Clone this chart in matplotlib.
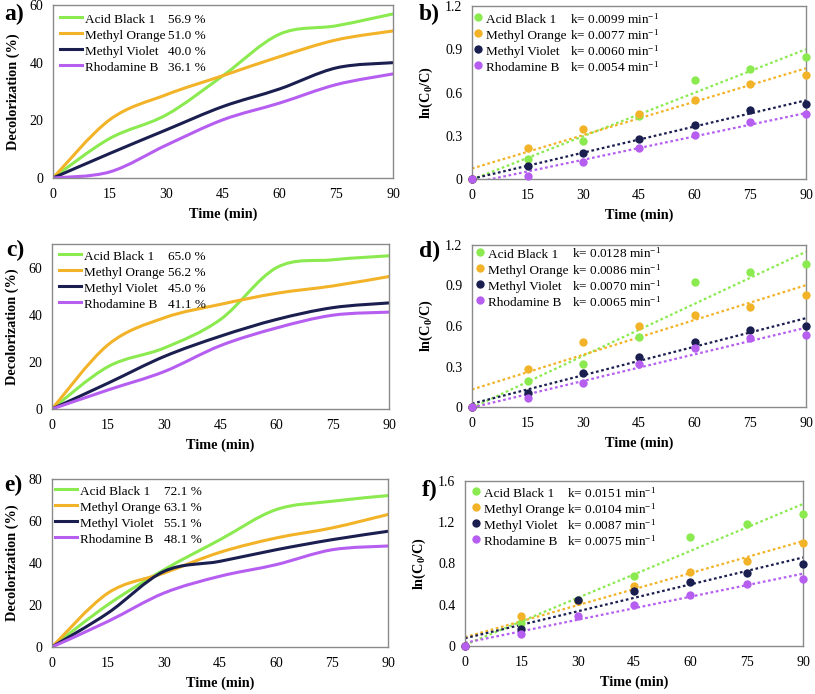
import numpy as np
import matplotlib
matplotlib.use("Agg")
import matplotlib.pyplot as plt
from matplotlib.path import Path
from matplotlib.patches import PathPatch
from matplotlib.lines import Line2D

plt.rcParams['font.family'] = ['Liberation Serif', 'DejaVu Serif']
plt.rcParams['mathtext.fontset'] = 'custom'
plt.rcParams['mathtext.rm'] = 'Liberation Serif'
plt.rcParams['mathtext.it'] = 'Liberation Serif:italic'
plt.rcParams['mathtext.bf'] = 'Liberation Serif:bold'
plt.rcParams['mathtext.default'] = 'regular'

time = [0, 15, 30, 45, 60, 75, 90]
dyes = ["Acid Black 1", "Methyl Orange", "Methyl Violet", "Rhodamine B"]
colors = ["#8BEA4F", "#F2B328", "#1B1F50", "#B55EF0"]

# decolorization (%) -- order follows dyes
decol_a = [[0, 13.7, 21.9, 35.5, 49.9, 52.8, 56.9],
           [0, 20.2, 28.9, 35.5, 42.1, 47.9, 51.0],
           [0, 8.5, 16.7, 24.8, 30.9, 38.2, 40.0],
           [0, 2.1, 11.4, 20.2, 26.0, 32.4, 36.1]]
decol_c = [[0, 18.0, 25.9, 38.0, 60.0, 63.3, 65.0],
           [0, 27.3, 38.7, 44.4, 49.1, 52.2, 56.2],
           [0, 11.0, 22.3, 30.9, 38.0, 43.0, 45.0],
           [0, 8.1, 15.9, 26.9, 34.4, 39.8, 41.1]]
decol_e = [[0, 20.2, 36.8, 51.1, 65.4, 69.4, 72.1],
           [0, 25.7, 35.2, 45.1, 51.9, 56.7, 63.1],
           [0, 16.2, 36.0, 40.8, 46.3, 51.1, 55.1],
           [0, 12.2, 25.7, 33.7, 39.2, 46.3, 48.1]]
pct_a = ["56.9 %", "51.0 %", "40.0 %", "36.1 %"]
pct_c = ["65.0 %", "56.2 %", "45.0 %", "41.1 %"]
pct_e = ["72.1 %", "63.1 %", "55.1 %", "48.1 %"]

# ln(C0/C)
lnc_b = [[0, 0.139, 0.264, 0.436, 0.684, 0.764, 0.849],
         [0, 0.217, 0.347, 0.453, 0.547, 0.660, 0.719],
         [0, 0.087, 0.177, 0.276, 0.377, 0.481, 0.517],
         [0, 0.024, 0.120, 0.212, 0.304, 0.392, 0.450]]
lnc_d = [[0, 0.190, 0.320, 0.515, 0.923, 1.000, 1.057],
         [0, 0.280, 0.483, 0.600, 0.680, 0.740, 0.830],
         [0, 0.106, 0.255, 0.374, 0.485, 0.569, 0.600],
         [0, 0.064, 0.178, 0.317, 0.436, 0.512, 0.535]]
lnc_f = [[0, 0.223, 0.443, 0.675, 1.054, 1.180, 1.283],
         [0, 0.291, 0.440, 0.582, 0.718, 0.824, 1.002],
         [0, 0.168, 0.443, 0.530, 0.617, 0.711, 0.798],
         [0, 0.120, 0.291, 0.400, 0.498, 0.601, 0.653]]
k_b = ["0.0099", "0.0077", "0.0060", "0.0054"]
k_d = ["0.0128", "0.0086", "0.0070", "0.0065"]
k_f = ["0.0151", "0.0104", "0.0087", "0.0075"]

W, H = 815, 694
LEG_FS = 9.5
LEG_HH = 1.22   # row height is set by the handle box so both columns match
LEG_SP = 0.13
fig = plt.figure(figsize=(W / 100, H / 100), dpi=100)


def px_axes(l, t, r, b):
    return fig.add_axes([l / W, 1 - b / H, (r - l) / W, (b - t) / H])


def smooth_path(x, y):
    # Excel-like smoothed line (Catmull-Rom as cubic Bezier segments)
    pts = np.column_stack([x, y]).astype(float)
    n = len(pts)
    verts = [pts[0]]
    codes = [Path.MOVETO]
    for i in range(n - 1):
        p0 = pts[max(i - 1, 0)]
        p1, p2 = pts[i], pts[i + 1]
        p3 = pts[min(i + 2, n - 1)]
        verts += [p1 + (p2 - p0) / 6, p2 - (p3 - p1) / 6, p2]
        codes += [Path.CURVE4] * 3
    return Path(verts, codes)


def style(ax, ymax, ystep, ylabel, fmt):
    ax.set_xlim(0, 90)
    ax.set_ylim(0, ymax)
    ax.set_xticks(time)
    ax.set_yticks(np.arange(0, ymax + 1e-9, ystep))
    ax.yaxis.set_major_formatter(matplotlib.ticker.FormatStrFormatter(fmt))
    ax.tick_params(length=0, labelsize=10, pad=7)
    for s in ax.spines.values():
        s.set_color("#8a8a8a")
        s.set_linewidth(1.0)
    ax.set_xlabel("Time (min)", fontsize=10.3, fontweight="bold", labelpad=5)
    ax.set_ylabel(ylabel, fontsize=10.3, fontweight="bold", labelpad=7)


def two_col_legend(ax, handles, names, values, x0, y0, x1, hl, htp):
    leg = ax.legend(handles, names, loc="upper left", frameon=False,
                    bbox_to_anchor=(x0 / W, 1 - y0 / H),
                    bbox_transform=fig.transFigure, borderpad=0,
                    borderaxespad=0, handlelength=hl, handletextpad=htp,
                    handleheight=LEG_HH, labelspacing=LEG_SP, fontsize=LEG_FS)
    ax.add_artist(leg)
    blank = [Line2D([], [], linestyle="none") for _ in values]
    ax.legend(blank, values, loc="upper left", frameon=False,
              bbox_to_anchor=(x1 / W, 1 - y0 / H),
              bbox_transform=fig.transFigure, borderpad=0, borderaxespad=0,
              handlelength=0, handletextpad=0, handleheight=LEG_HH,
              labelspacing=LEG_SP, fontsize=LEG_FS)


def panel_label(label, xy):
    fig.text(xy[0] / W, 1 - xy[1] / H, label, fontsize=17,
             fontweight="bold", va="center", ha="left")


def decol_panel(box, data, pcts, ymax, label, lab_xy, leg_x, leg_y, pct_x):
    ax = px_axes(*box)
    for vals, c in zip(data, colors):
        ax.add_patch(PathPatch(smooth_path(time, vals), fill=False,
                               edgecolor=c, lw=2.2, capstyle="round"))
    style(ax, ymax, 20, "Decolorization (%)", "%d")
    handles = [Line2D([], [], color=c, lw=2.2) for c in colors]
    two_col_legend(ax, handles, dyes, pcts, leg_x, leg_y, pct_x, 1.7, 0.2)
    panel_label(label, lab_xy)
    return ax


def rate_panel(box, data, ks, ymax, ystep, label, lab_xy, leg_x, leg_y, k_x):
    ax = px_axes(*box)
    t = np.array(time)
    for vals, c in zip(data, colors):
        coef = np.polyfit(t, vals, 1)
        ax.plot(t, np.polyval(coef, t), ls=(0, (1.2, 1.2)), color=c, lw=1.6)
        ax.plot(t, vals, "o", color=c, ms=6, mec="none", clip_on=False,
                zorder=3)
    style(ax, ymax, ystep, r"$\mathbf{ln(C_0/C)}$", "%g")
    handles = [Line2D([], [], marker="o", color=c, ms=6, mec="none",
                      linestyle="none") for c in colors]
    klabels = ["k= " + k + " min$^{-1}$" for k in ks]
    two_col_legend(ax, handles, dyes, klabels, leg_x, leg_y, k_x, 0.6, 0.3)
    panel_label(label, lab_xy)
    return ax


decol_panel((53, 5, 393, 178), decol_a, pct_a, 60, "a)", (4, 14), 60, 11.5, 168)
rate_panel((472, 6, 806, 179), lnc_b, k_b, 1.2, 0.3, "b)", (419, 14), 474, 11.5, 570)
decol_panel((52, 244, 389, 409), decol_c, pct_c, 70, "c)", (6, 250), 59, 248.5, 168)
rate_panel((472, 245, 806, 407), lnc_d, k_d, 1.2, 0.3, "d)", (419, 251), 476, 246.5, 572)
decol_panel((52, 479, 388, 647), decol_e, pct_e, 80, "e)", (4, 485), 55, 483.5, 164)
rate_panel((465, 481, 803, 646), lnc_f, k_f, 1.6, 0.4, "f)", (422, 490), 472, 485.5, 567)

fig.savefig("out.png", dpi=100)
